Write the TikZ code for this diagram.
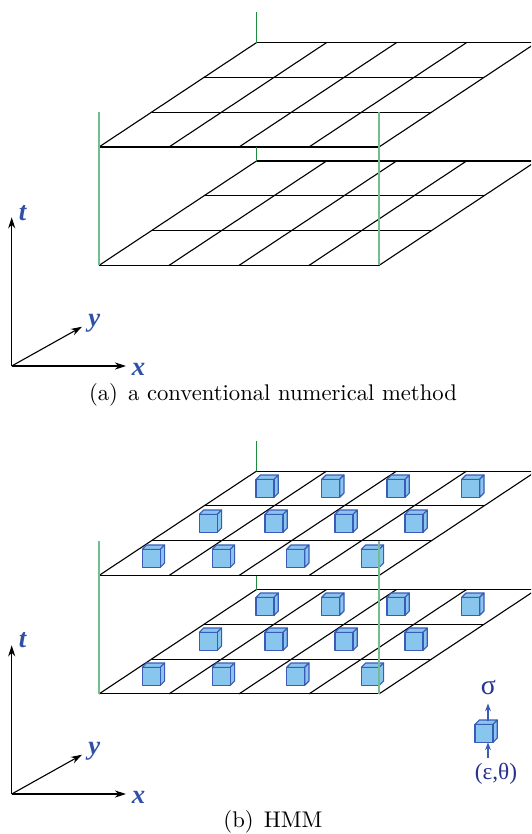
\documentclass[tikz,border=0pt]{standalone}
\usepackage{fontspec}
\newfontfamily\lib{Liberation Serif}
\usetikzlibrary{arrows.meta}
\definecolor{gridgreen}{RGB}{30,140,60}
\definecolor{frontgreen}{RGB}{115,190,145}
\definecolor{cubefill}{RGB}{137,198,238}
\definecolor{cubeedge}{RGB}{58,92,184}
\definecolor{axlabel}{RGB}{48,80,168}
\definecolor{navy}{RGB}{40,52,140}
\tikzset{
 gridline/.style={black, line width=0.5pt},
 backgreen/.style={gridgreen, line width=0.5pt},
 frontgreenline/.style={frontgreen, line width=0.9pt},
 axis/.style={black, line width=0.5pt, -{Stealth[length=5pt,width=3.2pt]}},
 axlab/.style={text=axlabel, font=\lib\bfseries\itshape\fontsize{12}{14}\selectfont, inner sep=0pt},
 caption/.style={font=\fontsize{10.2}{12}\selectfont, inner sep=0pt},
 greek/.style={text=navy, font=\lib\fontsize{10.5}{12}\selectfont, inner sep=0pt},
 bigsigma/.style={text=navy, font=\lib\fontsize{12.5}{14}\selectfont, inner sep=0pt},
 bluearrow/.style={cubeedge, line width=0.5pt, -{Stealth[length=3.5pt,width=2.6pt]}},
 cubestroke/.style={draw=cubeedge, fill=cubefill, line width=0.5pt, line join=round},
 pics/cube/.style={code={
   \path[cubestroke] (0,0) -- (4.3,-4.3) -- (22.3,-4.3) -- (18,0) -- cycle;
   \path[cubestroke] (18,0) -- (22.3,-4.3) -- (22.3,13.7) -- (18,18) -- cycle;
   \path[cubestroke] (0,0) rectangle (18,18);
   \coordinate (-top) at (13,-3);
   \coordinate (-bot) at (13,18);
 }},
}
\newcommand{\gridplane}[2]{%
  \foreach \i in {0,1,2,3}
    \draw[gridline] ({#1+\i*52.5},{#2-\i*34.8}) -- ++(280,0);
  \foreach \j in {0,1,2,3,4}
    \draw[gridline] ({#1+\j*70},#2) -- ++(157.5,-104.4);
}
\begin{document}
\begin{tikzpicture}[x=0.45pt,y=-0.45pt]
\useasboundingbox (0,0) rectangle (531,834);
\clip (0,0) rectangle (531,834);
\fill[white] (0,0) rectangle (531,834);

% ---------- panel (a) ----------
\gridplane{99}{147}
\gridplane{99}{265.4}
\draw[backgreen] (256.5,12) -- (256.5,42.6);
\draw[backgreen] (256.5,147) -- (256.5,161);
\draw[frontgreenline] (99,112.3) -- (99,265.4);
\draw[frontgreenline] (379,112.3) -- (379,265.4);

\coordinate (oa) at (11.7,366);
\coordinate (ta) at (11.7,217.3);
\coordinate (xa) at (126,366);
\coordinate (ya) at (82,326.7);
\draw[axis] (oa) -- (ta);
\draw[axis] (oa) -- (xa);
\draw[axis] (oa) -- (ya);
\node[axlab] (tla) at (22.7,213.3) {t};
\node[axlab] (yla) at (94.3,323.3) {y};
\node[axlab] (xla) at (138.5,369.3) {x};
\node[caption] (capa) at (273,395) {(a)\hspace{0.45em}a conventional numerical method};

% ---------- panel (b) ----------
\gridplane{99}{575.5}
\gridplane{99}{693.9}
\draw[backgreen] (256.5,440.5) -- (256.5,471.1);
\draw[backgreen] (256.5,575.5) -- (256.5,589.5);

% cubes, upper grid
\foreach \cx in {256,321.7,387,461.7} \pic at (\cx,479.3) {cube};
\foreach \cx in {199.3,265,335,405} \pic at (\cx,514.3) {cube};
\foreach \cx in {142.3,212.3,286.7,361.3} \pic at (\cx,549.3) {cube};
% cubes, lower grid
\foreach \cx in {256,321.7,387,461.7} \pic at (\cx,597.3) {cube};
\foreach \cx in {199.3,265,335,405} \pic at (\cx,632.3) {cube};
\foreach \cx in {142.3,212.3,286.7,361.3} \pic at (\cx,667.3) {cube};

\draw[frontgreenline] (99,540.8) -- (99,693.9);
\draw[frontgreenline] (379,540.8) -- (379,693.9);

\coordinate (ob) at (11.7,794);
\coordinate (tb) at (11.7,645.3);
\coordinate (xb) at (126,794);
\coordinate (yb) at (82,754.7);
\draw[axis] (ob) -- (tb);
\draw[axis] (ob) -- (xb);
\draw[axis] (ob) -- (yb);
\node[axlab] (tlb) at (22.7,640.3) {t};
\node[axlab] (ylb) at (94.3,751.3) {y};
\node[axlab] (xlb) at (138.5,797.3) {x};

% single cube with input/output
\pic (sc) at (475,724.3) {cube};
\node[bigsigma] (sig) at (488.3,688) {σ};
\node[greek] (eps) at (496,774) {(ε,θ)};
\draw[bluearrow] (sc-top) -- ([yshift=-3.5pt]sig.south -| sc-top);
\draw[bluearrow] ([yshift=2pt]eps.north -| sc-bot) -- (sc-bot);

\node[caption] (capb) at (273,821.7) {(b)\hspace{0.45em}HMM};
\end{tikzpicture}
\end{document}
